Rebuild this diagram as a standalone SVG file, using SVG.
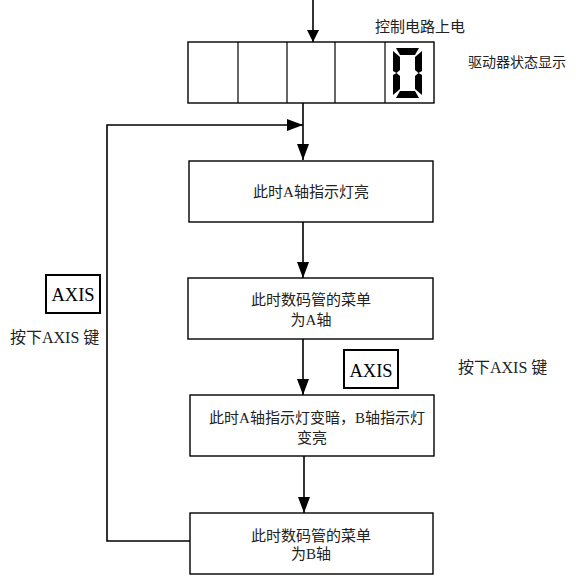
<svg xmlns="http://www.w3.org/2000/svg" width="582" height="577" viewBox="0 0 582 577">
<style>
.box{fill:#fff;stroke:#000;stroke-width:1.4}
.key{fill:#fff;stroke:#000;stroke-width:2}
.line{fill:none;stroke:#000;stroke-width:1.6}
.t{font-family:"Liberation Serif","Noto Sans CJK SC",serif;font-size:15px;fill:#222;text-anchor:middle}
.k{font-family:"Liberation Serif",serif;font-size:18.5px;fill:#000;text-anchor:middle}
.lbl{font-family:"Liberation Serif","Noto Sans CJK SC",serif;font-size:15px;fill:#222}
.seg{fill:#000}
</style>
<defs>
<marker id="ah" markerWidth="12" markerHeight="12" viewBox="0 0 12 12" refX="12" refY="6" orient="auto" markerUnits="userSpaceOnUse">
<path d="M0,0 L12,6 L0,12 Z" fill="#000"/>
</marker>
<marker id="ahv" markerWidth="16" markerHeight="12" viewBox="0 0 16 12" refX="16" refY="6" orient="auto" markerUnits="userSpaceOnUse">
<path d="M0,0 L16,6 L0,12 Z" fill="#000"/>
</marker>
</defs>

<g id="connectors">
<line class="line" x1="313" y1="0" x2="313" y2="42" marker-end="url(#ah)"/>
<line class="line" x1="303" y1="103" x2="303" y2="160" marker-end="url(#ahv)"/>
<path class="line" d="M190,541 H107 V125 H303" marker-end="url(#ahv)"/>
<line class="line" x1="303" y1="222" x2="303" y2="278" marker-end="url(#ahv)"/>
<line class="line" x1="303" y1="339" x2="303" y2="395" marker-end="url(#ahv)"/>
<line class="line" x1="304" y1="456" x2="304" y2="513" marker-end="url(#ahv)"/>
</g>

<g id="display">
<rect class="box" x="188" y="42" width="246" height="61"/>
<line class="line" x1="238" y1="42" x2="238" y2="103" style="stroke-width:1.2"/>
<line class="line" x1="287" y1="42" x2="287" y2="103" style="stroke-width:1.2"/>
<line class="line" x1="335" y1="42" x2="335" y2="103" style="stroke-width:1.2"/>
<line class="line" x1="385" y1="42" x2="385" y2="103" style="stroke-width:1.2"/>
<g id="digit0">
<path class="seg" d="M396,48 H419 L415,55 H400 Z"/>
<path class="seg" d="M393,51 L400,57 V70 L396.5,73 L393,71 Z"/>
<path class="seg" d="M393,75 L396.5,73 L400,76 V89 L393,95 Z"/>
<path class="seg" d="M422,51 V71 L418.5,73 L415,70 V57 Z"/>
<path class="seg" d="M422,75 V95 L415,89 V76 L418.5,73 Z"/>
<path class="seg" d="M396,98 H419 L415,91 H400 Z"/>
</g>
</g>

<g id="label-power"><text class="lbl" x="375" y="32">控制电路上电</text></g>
<g id="label-status"><text class="lbl" x="468" y="67" style="font-size:14px">驱动器状态显示</text></g>

<g id="box1">
<rect class="box" x="189" y="161" width="244" height="61"/>
<text class="t" x="311" y="197">此时A轴指示灯亮</text>
</g>

<g id="box2">
<rect class="box" x="188" y="278" width="245" height="61"/>
<text class="t" x="311" y="305">此时数码管的菜单</text>
<text class="t" x="311" y="325">为A轴</text>
</g>

<g id="box3">
<rect class="box" x="190" y="395" width="244" height="61"/>
<text class="t" x="317" y="423">此时A轴指示灯变暗，B轴指示灯</text>
<text class="t" x="312" y="443">变亮</text>
</g>

<g id="box4">
<rect class="box" x="190" y="513" width="243" height="61"/>
<text class="t" x="311" y="541">此时数码管的菜单</text>
<text class="t" x="311" y="559">为B轴</text>
</g>

<g id="key-right">
<rect class="key" x="344" y="350" width="54" height="38"/>
<text class="k" x="371" y="377">AXIS</text>
</g>
<g id="label-right"><text class="lbl" x="458" y="373" style="font-size:16px">按下AXIS 键</text></g>

<g id="key-left">
<rect class="key" x="46" y="275" width="54" height="38"/>
<text class="k" x="73" y="301">AXIS</text>
</g>
<g id="label-left"><text class="lbl" x="10" y="343" style="font-size:16px">按下AXIS 键</text></g>
</svg>
